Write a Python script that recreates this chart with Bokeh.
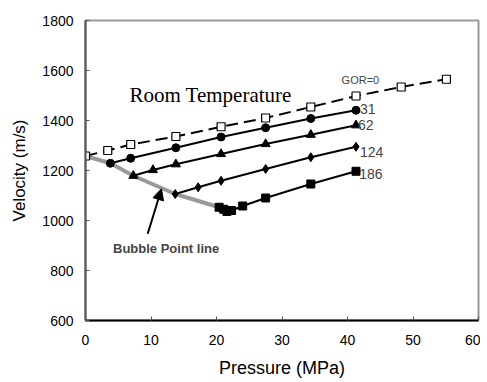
from bokeh.plotting import figure
from bokeh.models import Label, Arrow, NormalHead, Range1d, FixedTicker
from bokeh.embed import file_html
from bokeh.resources import INLINE

# Data (pressure MPa, velocity m/s)
gor0_p = [0.0, 3.4, 6.9, 13.8, 20.7, 27.5, 34.4, 41.3, 48.2, 55.1]
gor0_v = [1258, 1280, 1304, 1336, 1375, 1410, 1454, 1498, 1534, 1565]

gor31_p = [3.8, 6.9, 13.8, 20.7, 27.5, 34.4, 41.3]
gor31_v = [1229, 1249, 1291, 1334, 1371, 1408, 1441]

gor62_p = [7.3, 10.3, 13.8, 20.7, 27.5, 34.4, 41.3]
gor62_v = [1179, 1202, 1225, 1266, 1306, 1343, 1381]

gor124_p = [13.7, 17.2, 20.7, 27.5, 34.4, 41.3]
gor124_v = [1106, 1133, 1159, 1206, 1253, 1295]

gor186_p = [20.4, 21.1, 21.6, 22.3, 24.0, 27.5, 34.4, 41.3]
gor186_v = [1053, 1045, 1036, 1040, 1058, 1090, 1146, 1197]

bubble_p = [0.0, 3.8, 7.3, 13.7, 20.4, 21.6]
bubble_v = [1258, 1229, 1179, 1106, 1053, 1036]

x_ticks = [0, 10, 20, 30, 40, 50, 60]
y_ticks = [600, 800, 1000, 1200, 1400, 1600, 1800]

FONT = "Liberation Sans"

p = figure(width=480, height=380, output_backend="svg", toolbar_location=None,
           x_range=Range1d(0, 60), y_range=Range1d(600, 1800),
           min_border_left=85, min_border_right=2, min_border_top=20, min_border_bottom=59)

p.grid.visible = False
p.outline_line_color = "#999999"
p.outline_line_width = 2
p.background_fill_color = "white"
p.border_fill_color = "white"

p.xaxis.ticker = FixedTicker(ticks=x_ticks)
p.yaxis.ticker = FixedTicker(ticks=y_ticks)
for ax in (p.xaxis[0], p.yaxis[0]):
    ax.major_tick_in = 4
    ax.major_tick_out = 0
    ax.minor_tick_in = 0
    ax.minor_tick_out = 0
    ax.major_label_text_font = FONT
    ax.major_label_text_font_size = "14px"
    ax.major_label_text_color = "black"
    ax.axis_label_text_font = FONT
    ax.axis_label_text_font_style = "normal"
    ax.axis_label_text_color = "black"
p.xaxis.axis_label_text_font_size = "18px"
p.yaxis.axis_label_text_font_size = "17px"
p.xaxis.axis_line_color = "black"
p.xaxis.axis_line_width = 2
p.xaxis.major_tick_line_color = "#555555"
p.yaxis.axis_line_color = "#555555"
p.yaxis.axis_line_width = 2
p.yaxis.major_tick_line_color = "#555555"
p.xaxis.major_label_standoff = 14
p.yaxis.major_label_standoff = 12
p.xaxis.axis_label = "Pressure (MPa)"
p.yaxis.axis_label = "Velocity (m/s)"
p.xaxis.axis_label_standoff = 10
p.yaxis.axis_label_standoff = 10

# Bubble point line
p.line(bubble_p, bubble_v, line_color="#999999", line_width=4)

# Series
p.line(gor0_p, gor0_v, line_color="black", line_width=2, line_dash="12 6")
p.scatter(gor0_p, gor0_v, marker="square", size=8, fill_color="white", line_color="black", line_width=1.2)

p.line(gor31_p, gor31_v, line_color="black", line_width=2)
p.scatter(gor31_p, gor31_v, marker="circle", size=8, fill_color="black", line_color="black")

p.line(gor62_p, gor62_v, line_color="black", line_width=2)
p.scatter(gor62_p, gor62_v, marker="triangle", size=9, fill_color="black", line_color="black")

p.line(gor124_p, gor124_v, line_color="black", line_width=2)
p.scatter(gor124_p, gor124_v, marker="diamond", size=9, fill_color="black", line_color="black")

p.line(gor186_p, gor186_v, line_color="black", line_width=2)
p.scatter(gor186_p, gor186_v, marker="square", size=8, fill_color="black", line_color="black")

# Arrow
p.add_layout(Arrow(end=NormalHead(size=11, fill_color="black", line_color="black"),
                   x_start=9.5, y_start=947, x_end=11.6, y_end=1127,
                   line_color="black", line_width=2))

# Texts
p.add_layout(Label(x=6.7, y=1501, text="Room Temperature", text_font="Liberation Serif",
                   text_font_size="21px", text_color="black", text_baseline="alphabetic"))
p.add_layout(Label(x=39.1, y=1561, text="GOR=0", text_font=FONT, text_font_size="11px",
                   text_baseline="middle"))
p.add_layout(Label(x=41.9, y=1448, text="31", text_font=FONT, text_font_size="14px",
                   text_baseline="middle"))
p.add_layout(Label(x=41.6, y=1384, text="62", text_font=FONT, text_font_size="14px",
                   text_baseline="middle"))
p.add_layout(Label(x=41.9, y=1275, text="124", text_font=FONT, text_font_size="14px",
                   text_baseline="middle"))
p.add_layout(Label(x=41.8, y=1186, text="186", text_font=FONT, text_font_size="14px",
                   text_baseline="middle"))
p.add_layout(Label(x=4.2, y=890, text="Bubble Point line", text_font=FONT, text_font_size="13px",
                   text_font_style="bold", text_baseline="middle"))

open("out.html", "w").write(file_html(p, INLINE))
